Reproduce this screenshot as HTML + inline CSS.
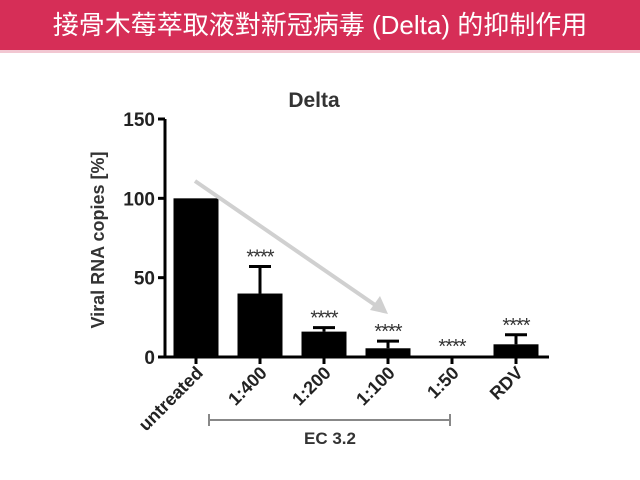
<!DOCTYPE html>
<html><head><meta charset="utf-8"><style>
body{margin:0;width:640px;height:480px;background:#fff;overflow:hidden}
#hdr{position:absolute;left:0;top:0;width:640px;height:50px;background:#d62e57;color:#fff;font:26px "Liberation Sans","Noto Sans CJK TC",sans-serif;text-align:center;line-height:50px}
#bar2{position:absolute;left:0;top:50px;width:640px;height:3px;background:#f2c7d2}
svg{position:absolute;left:0;top:0}
</style></head><body>
<div id="hdr">接骨木莓萃取液對新冠病毒 (Delta) 的抑制作用</div>
<div id="bar2"></div>
<svg id="c" width="640" height="480" font-family="Liberation Sans, sans-serif"></svg>
<script>
const categories=["untreated","1:400","1:200","1:100","1:50","RDV"];
const values=[100,40,16,5.5,0.5,8];
const errors=[0,17,2.5,4.5,0,6];
const stars=["","****","****","****","****","****"];
const yTicks=[0,50,100,150];
const svg=document.getElementById('c');const NS='http://www.w3.org/2000/svg';
function y(v){return 357-v*(238/150);}
function x(i){return 196+i*64;}
function mk(t,a,txt){const e=document.createElementNS(NS,t);for(const k in a)e.setAttribute(k,a[k]);if(txt!==undefined)e.textContent=txt;svg.appendChild(e);return e;}
let e;
e=mk('text',{x:314,y:107,'text-anchor':'middle','font-size':21,'font-weight':'bold',fill:'#333'},'Delta');


e=mk('text',{x:0,y:0,'text-anchor':'middle','font-size':18,'font-weight':'bold',fill:'#333',transform:'translate(104,240) rotate(-90)'},'Viral RNA copies [%]');


e=mk('line',{x1:165,y1:y(150),x2:165,y2:y(0),stroke:'#000','stroke-width':3});


e=mk('line',{x1:164,y1:357,x2:549,y2:357,stroke:'#000','stroke-width':3});


yTicks.forEach(t=>{
 e=mk('line',{x1:158,y1:y(t),x2:165,y2:y(t),stroke:'#000','stroke-width':3});
 
 
 e=mk('text',{x:155,y:y(t)+7,'text-anchor':'end','font-size':19,'font-weight':'bold',fill:'#222'},t);
 
 
});
categories.forEach((c,i)=>{
 const cx=x(i),v=values[i];
 if(errors[i]>0){
  e=mk('line',{x1:cx,y1:y(v),x2:cx,y2:y(v+errors[i]),stroke:'#000','stroke-width':3});
  
  
  e=mk('line',{x1:cx-11,y1:y(v+errors[i]),x2:cx+11,y2:y(v+errors[i]),stroke:'#000','stroke-width':3});
  
  
 }
 e=mk('rect',{x:cx-22.5,y:y(v),width:45,height:Math.max(357-y(v),1.5),fill:'#000'});
 
 
 if(stars[i]){
  e=mk('text',{x:cx,y:y(v+errors[i])-3,'text-anchor':'middle','font-size':20,'letter-spacing':'-1',fill:'#333'},stars[i]);
  
  
 }
 e=mk('line',{x1:cx,y1:357,x2:cx,y2:364,stroke:'#000','stroke-width':3});
 
 
 e=mk('text',{x:0,y:0,'text-anchor':'end','font-size':18,'font-weight':'bold',fill:'#222',transform:'translate('+(cx+8)+',374) rotate(-45)'},c);
 
 
});
e=mk('line',{x1:195,y1:181,x2:378,y2:307,stroke:'#d0d0d0','stroke-width':4});


e=mk('polygon',{points:'388,314 370,310 380,296',fill:'#d0d0d0'});


e=mk('path',{d:'M209,414 V426 M209,420 H450 M450,414 V426',stroke:'#888','stroke-width':2,fill:'none'});


e=mk('text',{x:330,y:444,'text-anchor':'middle','font-size':17,'font-weight':'bold',fill:'#333'},'EC 3.2');


</script>
</body></html>
